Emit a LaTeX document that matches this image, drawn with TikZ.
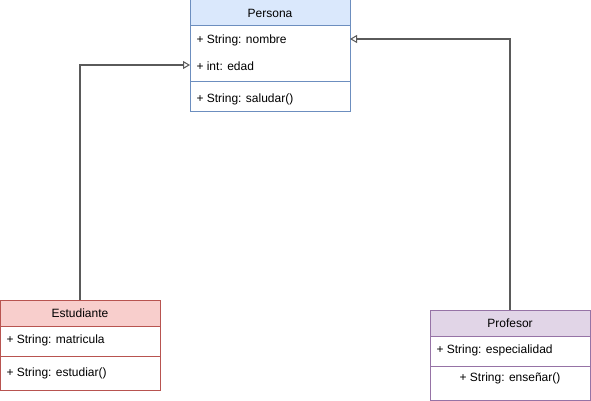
\documentclass[tikz,border=0pt]{standalone}
\usepackage{fontspec}
\setmainfont{Liberation Sans}
\usetikzlibrary{arrows.meta}
\definecolor{blueF}{HTML}{DAE8FC}\definecolor{blueS}{HTML}{6C8EBF}
\definecolor{redF}{HTML}{F8CECC}\definecolor{redS}{HTML}{B85450}
\definecolor{purF}{HTML}{E1D5E7}\definecolor{purS}{HTML}{9673A6}
\definecolor{edge}{HTML}{5A5A5A}
\begin{document}
\begin{tikzpicture}[x=1pt,y=-1pt,line width=1pt,
  txt/.style={font=\fontsize{12}{14}\selectfont,inner sep=0pt},
  attr/.style={txt,anchor=west},
  inh/.style={draw=edge,line width=1.3pt,-{Triangle[open,length=7pt,width=8pt,fill=white,line width=1pt]}}]
\useasboundingbox (0,0) rectangle (591,401);
% Persona
\fill[white] (190,0) rectangle (350,112);
\fill[blueF] (190,0) rectangle (350,26);
\draw[blueS] (190,0) rectangle (350,112);
\draw[blueS] (190,26) -- (350,26);
\draw[blueS] (190,82) -- (350,82);
\node[txt] (persona) at (270,13) {Persona};
\node[attr] (nombre) at (196,40) {+ String: nombre};
\node[attr] (edad) at (196,66) {+ int: edad};
\node[attr] (saludar) at (196,99) {+ String: saludar()};
\coordinate (pL) at (190,65);
\coordinate (pR) at (350,39);
% Estudiante
\fill[white] (0,300) rectangle (160,390);
\fill[redF] (0,300) rectangle (160,326);
\draw[redS] (0,300) rectangle (160,390);
\draw[redS] (0,326) -- (160,326);
\draw[redS] (0,356) -- (160,356);
\node[txt] (est) at (80,313) {Estudiante};
\node[attr] (mat) at (6,340) {+ String: matricula};
\node[attr] (estud) at (6,373) {+ String: estudiar()};
\coordinate (eT) at (80,300);
% Profesor
\fill[white] (430,310) rectangle (590,400);
\fill[purF] (430,310) rectangle (590,336);
\draw[purS] (430,310) rectangle (590,400);
\draw[purS] (430,336) -- (590,336);
\draw[purS] (430,366) -- (590,366);
\node[txt] (prof) at (510,323) {Profesor};
\node[attr] (esp) at (436,350) {+ String: especialidad};
\node[txt] (ens) at (510,378) {+ String: enseñar()};
\coordinate (fT) at (510,310);
% connectors
\draw[inh] (eT) |- (pL);
\draw[inh] (fT) |- (pR);
\end{tikzpicture}
\end{document}
